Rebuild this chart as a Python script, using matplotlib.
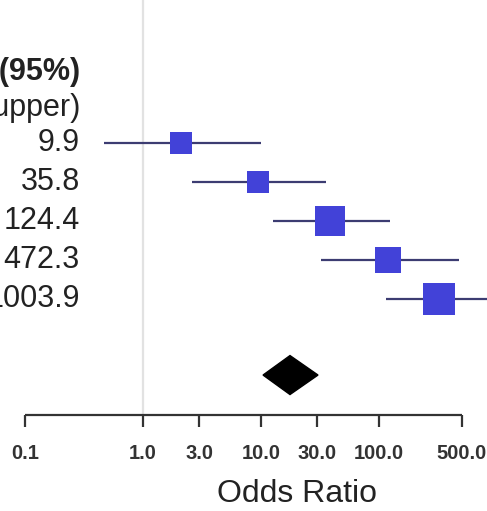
import numpy as np
import matplotlib
matplotlib.use("Agg")
from matplotlib import pyplot as plt

# study estimates (odds ratio, 95% CI)
odds = [2.1, 9.4, 38.5, 119.0, 322.0]
lower = [0.47, 2.6, 12.6, 32.2, 115.0]
upper = [9.9, 35.8, 124.4, 472.3, 1003.9]
weights = [17, 17, 23, 20, 25]  # relative box sizes

pooled = 17.6
pooled_lo = 10.4
pooled_hi = 30.4

ticks = [0.1, 1.0, 3.0, 10.0, 30.0, 100.0, 500.0]
tick_labels = ["0.1", "1.0", "3.0", "10.0", "30.0", "100.0", "500.0"]

plt.rcParams["font.family"] = ["Liberation Sans", "DejaVu Sans"]

fig = plt.figure(figsize=(4.87, 5.11), dpi=100)
ax = fig.add_axes([0, 0, 1, 1])
ax.set_xscale("log")
ax.set_xlim(10 ** -1.212, 10 ** 2.915)
ax.set_ylim(9.436, -3.667)
ax.axis("off")

rows = np.arange(len(odds))
y_axis = 6.97
y_pooled = 5.95

# reference line at OR = 1
ax.vlines(1.0, -3.667, y_axis, color="#e2e2e2", lw=1.6, zorder=0)

# CI lines and boxes
ax.hlines(rows, lower, upper, color="#3c3c72", lw=1.6, zorder=1)
sizes = [(w * 1.3 * 0.72) ** 2 for w in weights]
ax.scatter(odds, rows, s=sizes, marker="s", color="#4242d8", edgecolor="none", zorder=2)

# pooled diamond
ax.fill([pooled_lo, pooled, pooled_hi, pooled],
        [y_pooled, y_pooled - 0.5, y_pooled, y_pooled + 0.5],
        color="black", zorder=2)

# x axis drawn by hand like the R forest plot
ax.hlines(y_axis, ticks[0], ticks[-1], color="#333333", lw=1.6)
ax.vlines(ticks, y_axis, y_axis + 0.31, color="#333333", lw=1.6)
for t, lab in zip(ticks, tick_labels):
    ax.text(t, y_axis + 1.0, lab, ha="center", va="center",
            fontsize=14.5, fontweight="bold", color="#333333")
fig.text(297 / 487, 1 - 494 / 511, "Odds Ratio", ha="center", va="center",
         fontsize=23, color="#222222")

# text column: upper CI
tx = ax.get_yaxis_transform()
ax.text(80 / 487, -1.82, "CI (95%)", transform=tx, ha="right", va="center",
        fontsize=22, fontweight="bold", color="#222222")
ax.text(80 / 487, -0.90, "(lower, upper)", transform=tx, ha="right", va="center",
        fontsize=22, color="#222222")
for r, u in zip(rows, upper):
    ax.text(80 / 487, r, f"{u:.1f}", transform=tx, ha="right", va="center",
            fontsize=22, color="#222222")

fig.savefig("out.png", dpi=100)
